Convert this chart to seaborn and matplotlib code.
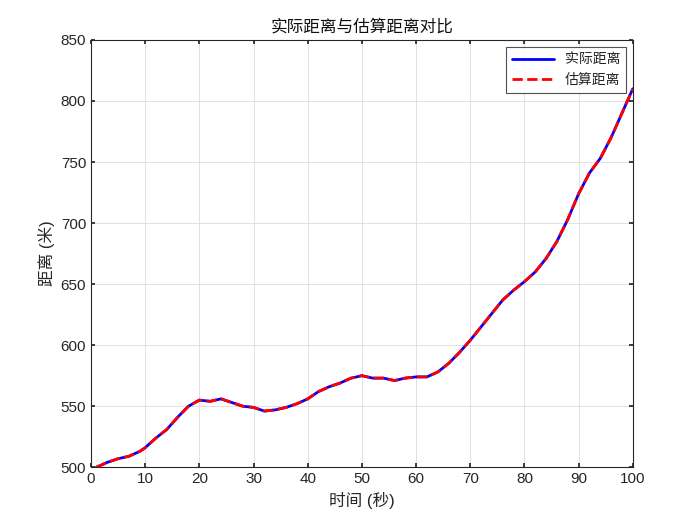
import numpy as np
import pandas as pd
import matplotlib
matplotlib.use("Agg")
import matplotlib.pyplot as plt
import seaborn as sns

sns.set_theme(style="whitegrid")
plt.rcParams['font.family'] = ['Liberation Sans', 'Noto Sans CJK SC', 'DejaVu Sans']

t = [1, 3, 5, 7, 9, 10, 12, 14, 16, 18, 20, 22, 24, 26, 28, 30, 32, 34, 36, 38,
     40, 42, 44, 46, 48, 50, 52, 54, 56, 58, 60, 62, 64, 66, 68, 70, 72, 74, 76,
     78, 80, 82, 84, 86, 88, 90, 92, 94, 96, 98, 100]
actual = [500, 504, 507, 509, 513, 516, 524, 531, 541, 550, 555, 554, 556, 553,
          550, 549, 546, 547, 549, 552, 556, 562, 566, 569, 573, 575, 573, 573,
          571, 573, 574, 574, 578, 585, 594, 604, 615, 626, 637, 645, 652, 660,
          671, 685, 703, 724, 741, 753, 770, 790, 810]
estimated = list(actual)

df = pd.DataFrame({'t': t, 'actual': actual, 'est': estimated})

fig = plt.figure(figsize=(7, 5.25), dpi=100)
ax = fig.add_axes([0.13, 0.11, 0.774, 0.814])

sns.lineplot(data=df, x='t', y='actual', ax=ax, color='blue', linewidth=2, label='实际距离')
sns.lineplot(data=df, x='t', y='est', ax=ax, color='red', linewidth=2, linestyle='--', label='估算距离')

ax.set_facecolor('white')
ax.set_xlim(0, 100)
ax.set_ylim(500, 850)
ax.set_xticks(range(0, 101, 10))
ax.set_yticks(range(500, 851, 50))
ax.grid(True, color='#dcdcdc', linewidth=0.6)
for s in ax.spines.values():
    s.set_color('#262626')
    s.set_linewidth(0.8)
ax.tick_params(axis='both', labelsize=11, colors='#262626', direction='in', length=3,
               bottom=True, left=True, top=True, right=True)
ax.set_xlabel('时间 (秒)', fontsize=12, color='#262626')
ax.set_ylabel('距离 (米)', fontsize=12, color='#262626')
ax.set_title('实际距离与估算距离对比', fontsize=12, color='#111111')
leg = ax.legend(loc='upper right', fontsize=10, frameon=True, fancybox=False,
                edgecolor='#262626', handlelength=3)
leg.get_frame().set_linewidth(0.8)

fig.savefig('out.png', dpi=100, facecolor='white')
